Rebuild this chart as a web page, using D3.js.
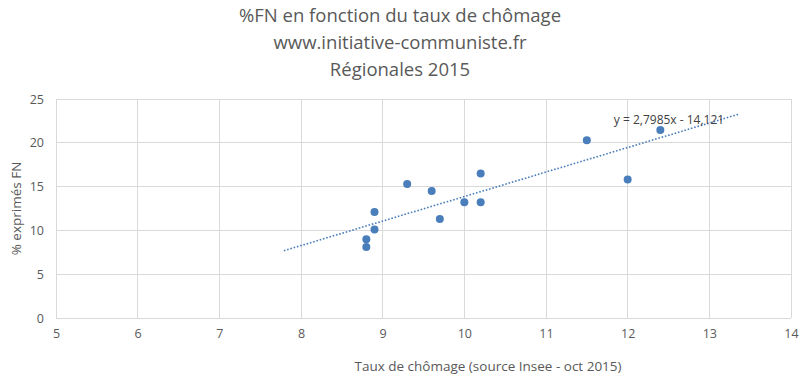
<!DOCTYPE html>
<html>
<head>
<meta charset="utf-8">
<script src="https://cdn.jsdelivr.net/npm/d3@7"></script>
<style>
  body { margin: 0; background: #fff; }
  text { font-family: "Open Sans", "Noto Sans", sans-serif; fill: #595959; }
</style>
</head>
<body>
<svg width="800" height="374"></svg>
<script>
// data
var chomage = [11.5, 12.4, 12.0, 10.2, 9.3, 9.6, 10.0, 10.2, 9.7, 8.9, 8.9, 8.8, 8.8];
var fn      = [20.3, 21.45, 15.8, 16.5, 15.3, 14.5, 13.2, 13.2, 11.3, 12.1, 10.1, 9.0, 8.1];
var xTicks = [5, 6, 7, 8, 9, 10, 11, 12, 13, 14];
var yTicks = [0, 5, 10, 15, 20, 25];
var trendSlope = 2.7985, trendIntercept = -14.121;
var trendRange = [7.79, 13.36];
var titleLines = ["%FN en fonction du taux de chômage", "www.initiative-communiste.fr", "Régionales 2015"];

var svg = d3.select("svg");
var plotLeft = 56, plotRight = 791, plotTop = 99, plotBottom = 318;

var x = d3.scaleLinear().domain([5, 14]).range([plotLeft, plotRight]);
var y = d3.scaleLinear().domain([0, 25]).range([plotBottom, plotTop]);

// gridlines
svg.append("g").selectAll("line")
  .data(xTicks).enter()
  .append("line")
  .attr("x1", function (d) { return x(d); })
  .attr("x2", function (d) { return x(d); })
  .attr("y1", plotTop).attr("y2", plotBottom)
  .attr("stroke", "#d9d9d9").attr("stroke-width", 1)
  .attr("shape-rendering", "crispEdges");

svg.append("g").selectAll("line")
  .data(yTicks).enter()
  .append("line")
  .attr("x1", plotLeft).attr("x2", plotRight)
  .attr("y1", function (d) { return y(d); })
  .attr("y2", function (d) { return y(d); })
  .attr("stroke", "#d9d9d9").attr("stroke-width", 1)
  .attr("shape-rendering", "crispEdges");

// axes (labels only)
var xAxis = svg.append("g")
  .attr("transform", "translate(0," + (plotBottom + 5) + ")")
  .call(d3.axisBottom(x).tickValues(xTicks).tickSize(0).tickPadding(6));
var yAxis = svg.append("g")
  .attr("transform", "translate(" + (plotLeft - 6) + ",0)")
  .call(d3.axisLeft(y).tickValues(yTicks).tickSize(0).tickPadding(6));
[xAxis, yAxis].forEach(function (a) {
  a.select(".domain").remove();
  a.selectAll("text")
    .style("font-family", "'Open Sans', 'Noto Sans', sans-serif")
    .style("font-size", "12.5px")
    .attr("fill", "#595959");
});

// trendline
svg.append("line")
  .attr("x1", x(trendRange[0]))
  .attr("y1", y(trendSlope * trendRange[0] + trendIntercept))
  .attr("x2", x(trendRange[1]))
  .attr("y2", y(trendSlope * trendRange[1] + trendIntercept))
  .attr("stroke", "#4a7ebb")
  .attr("stroke-width", 1.6)
  .attr("stroke-dasharray", "1.6,1.8");

// points
svg.append("g").selectAll("circle")
  .data(chomage).enter()
  .append("circle")
  .attr("cx", function (d) { return x(d); })
  .attr("cy", function (d, i) { return y(fn[i]); })
  .attr("r", 4)
  .attr("fill", "#4a7ebb");

// equation label
svg.append("text")
  .attr("x", 669).attr("y", 124)
  .attr("text-anchor", "middle")
  .style("font-size", "12px")
  .style("fill", "#404040")
  .text("y = 2,7985x - 14,121");

// title
svg.append("g").selectAll("text")
  .data(titleLines).enter()
  .append("text")
  .attr("x", 400)
  .attr("y", function (d, i) { return 22 + i * 27; })
  .attr("text-anchor", "middle")
  .style("font-size", "18.5px")
  .text(function (d) { return d; });

// axis titles
svg.append("text")
  .attr("x", 488).attr("y", 371)
  .attr("text-anchor", "middle")
  .style("font-size", "13.5px")
  .text("Taux de chômage (source Insee - oct 2015)");

svg.append("text")
  .attr("transform", "translate(21," + ((plotTop + plotBottom) / 2) + ") rotate(-90)")
  .attr("text-anchor", "middle")
  .style("font-size", "13.5px")
  .text("% exprimés FN");
</script>
</body>
</html>
